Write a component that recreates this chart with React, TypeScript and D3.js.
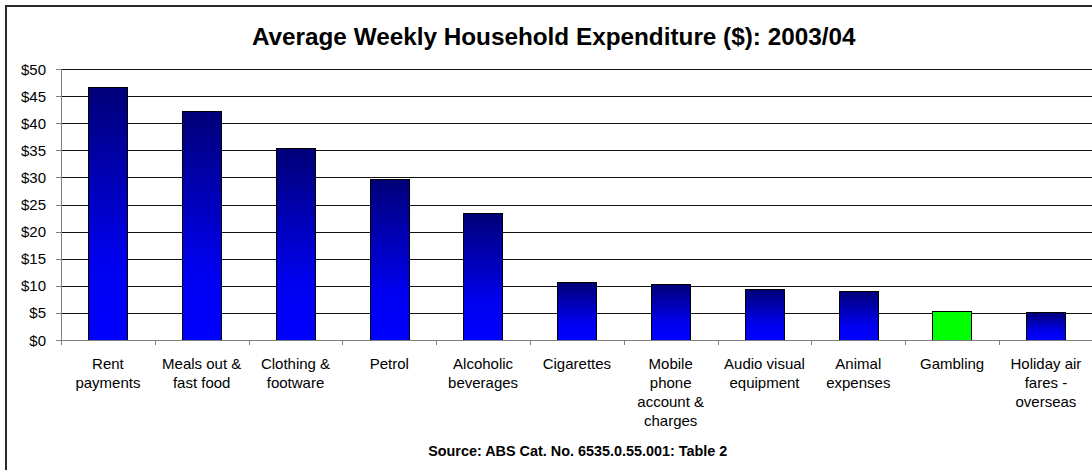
import React from "react";
import * as d3 from "d3";

const categories: string[] = [
  "Rent\npayments",
  "Meals out &\nfast food",
  "Clothing &\nfootware",
  "Petrol",
  "Alcoholic\nbeverages",
  "Cigarettes",
  "Mobile\nphone\naccount &\ncharges",
  "Audio visual\nequipment",
  "Animal\nexpenses",
  "Gambling",
  "Holiday air\nfares -\noverseas",
];
const values: number[] = [46.7, 42.2, 35.4, 29.7, 23.4, 10.7, 10.4, 9.4, 9.1, 5.4, 5.2];
const highlighted: string[] = ["Gambling"];
const yTicks: number[] = [0, 5, 10, 15, 20, 25, 30, 35, 40, 45, 50];
const title = "Average Weekly Household Expenditure ($): 2003/04";
const source = "Source: ABS Cat. No. 6535.0.55.001: Table 2";

const W = 1092;
const H = 470;
const plotLeft = 61;
const plotRight = 1092.8;
const plotTop = 69;
const plotBottom = 340;
const FONT = "'Liberation Sans', Arial, Helvetica, sans-serif";

export default function App() {
  const x = d3.scaleBand<string>().domain(categories).range([plotLeft, plotRight]).padding(0);
  const y = d3.scaleLinear().domain([0, 50]).range([plotBottom, plotTop]);
  const bw = x.bandwidth();
  const barW = bw * 0.415;
  const barOff = bw * 0.29;

  return (
    <div style={{ position: "fixed", left: 0, top: 0, width: W, height: H, background: "#fff" }}>
      <svg width={W} height={H} style={{ display: "block" }} fontFamily={FONT}>
        <defs>
          <linearGradient id="barGrad" x1="0" y1="0" x2="0" y2="1">
            <stop offset="0%" stopColor="#000078" />
            <stop offset="70%" stopColor="#0000F0" />
            <stop offset="100%" stopColor="#0000FF" />
          </linearGradient>
        </defs>
        <rect x={0} y={0} width={W} height={H} fill="#fff" />
        {/* outer chart border */}
        <rect x={6} y={6} width={1100} height={500} fill="none" stroke="#2a2a2a" strokeWidth={2} />

        {/* title */}
        <text x={553.7} y={45} textAnchor="middle" fontSize={24.3} fontWeight="bold" fill="#000">
          {title}
        </text>

        {/* gridlines */}
        {yTicks.filter((t) => t > 0).map((t) => (
          <line key={"g" + t} x1={plotLeft} x2={plotRight + 10} y1={Math.round(y(t)) + 0.5} y2={Math.round(y(t)) + 0.5} stroke="#111" strokeWidth={1} />
        ))}

        {/* y axis */}
        <line x1={plotLeft + 0.5} x2={plotLeft + 0.5} y1={plotTop} y2={plotBottom} stroke="#808080" strokeWidth={1} />
        {yTicks.map((t) => (
          <g key={"yt" + t}>
            <line x1={plotLeft - 5} x2={plotLeft} y1={Math.round(y(t)) + 0.5} y2={Math.round(y(t)) + 0.5} stroke="#808080" strokeWidth={1} />
            <text x={46} y={y(t) + 5.5} textAnchor="end" fontSize={15} fill="#000">
              {"$" + t}
            </text>
          </g>
        ))}

        {/* bars */}
        {categories.map((c, i) => (
          <rect
            key={"b" + i}
            x={Math.round((x(c) as number) + barOff) + 0.5}
            y={Math.round(y(values[i])) + 0.5}
            width={Math.round(barW)}
            height={Math.round(y(0)) - Math.round(y(values[i]))}
            fill={highlighted.includes(c) ? "#00FF00" : "url(#barGrad)"}
            stroke="#000"
            strokeWidth={1}
          />
        ))}

        {/* x axis */}
        <line x1={plotLeft} x2={plotRight + 10} y1={plotBottom + 0.5} y2={plotBottom + 0.5} stroke="#808080" strokeWidth={1} />
        {categories.map((c, i) => (
          <line key={"xt" + i} x1={Math.round(x(c) as number) + 0.5} x2={Math.round(x(c) as number) + 0.5} y1={plotBottom} y2={plotBottom + 5} stroke="#808080" strokeWidth={1} />
        ))}

        {/* category labels */}
        {categories.map((c, i) => (
          <text key={"xl" + i} textAnchor="middle" fontSize={15} fill="#000">
            {c.split("\n").map((line, j) => (
              <tspan key={j} x={(x(c) as number) + bw / 2} y={369.3 + j * 19}>
                {line}
              </tspan>
            ))}
          </text>
        ))}

        {/* source */}
        <text x={577.7} y={456} textAnchor="middle" fontSize={14.4} fontWeight="bold" fill="#000">
          {source}
        </text>
      </svg>
    </div>
  );
}
